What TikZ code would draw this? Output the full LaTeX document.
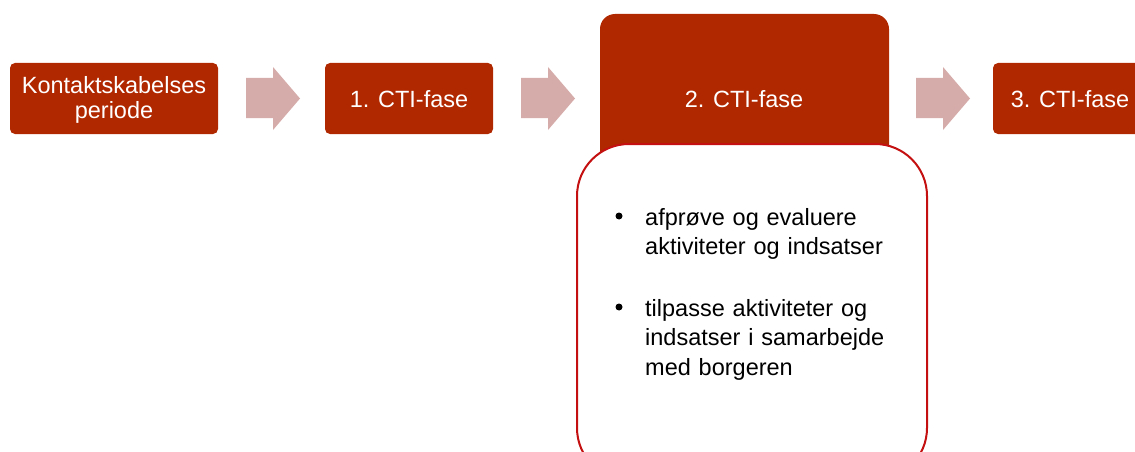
\documentclass[tikz,border=0pt]{standalone}
\usepackage{fontspec}
\setmainfont{Liberation Sans}
\definecolor{phase}{RGB}{176,40,0}
\definecolor{flow}{RGB}{214,172,170}
\definecolor{frame}{RGB}{196,16,16}
\begin{document}
\begin{tikzpicture}[x=1pt,y=-1pt,
  phasebox/.style={fill=phase,draw=none,rounded corners=5pt,text=white,
    font=\fontsize{23.5}{24.5}\selectfont,align=center,inner sep=0pt},
  flowarrow/.style={fill=flow,draw=none},
  detailbox/.style={fill=white,draw=frame,line width=2pt,rounded corners=52pt},
  detailtext/.style={font=\fontsize{23.5}{29.5}\selectfont,align=left,anchor=north west,
    text width=270pt,inner sep=0pt},
  bulletdot/.style={circle,fill=black,inner sep=0pt,minimum size=7pt}]
\useasboundingbox (0,0) rectangle (1135,452);
\clip (0,0) rectangle (1135,452);
% phase boxes
\path[phasebox] (10,63) rectangle (218,134);
\node[phasebox] (p0) at (114,100) {Kontaktskabelses\\periode};
\path[phasebox] (325,63) rectangle (493,134);
\node[phasebox] (p1) at (409,99) {1. CTI-fase};
\path[phasebox,rounded corners=15pt] (600,14) rectangle (889,200);
\node[phasebox] (p2) at (744,99) {2. CTI-fase};
\path[phasebox] (993,63) rectangle (1160,134);
\node[phasebox] (p3) at (1070,99) {3. CTI-fase};
% block arrows between the phases
\foreach \x in {246,521,916}{
  \path[flowarrow] (\x,78) -- (\x+27,78) -- (\x+27,67) -- (\x+54,98.5)
    -- (\x+27,130) -- (\x+27,118) -- (\x,118) -- cycle;
}
% detail panel for phase 2
\path[detailbox] (577,144) rectangle (927,480);
\node[detailtext] (d1) at (645,208) {afprøve og evaluere\\aktiviteter og indsatser};
\node[detailtext] (d2) at (645,299) {tilpasse aktiviteter og\\indsatser i samarbejde\\med borgeren};
\node[bulletdot] (b1) at (619,216) {};
\node[bulletdot] (b2) at (619,307) {};
\end{tikzpicture}
\end{document}
